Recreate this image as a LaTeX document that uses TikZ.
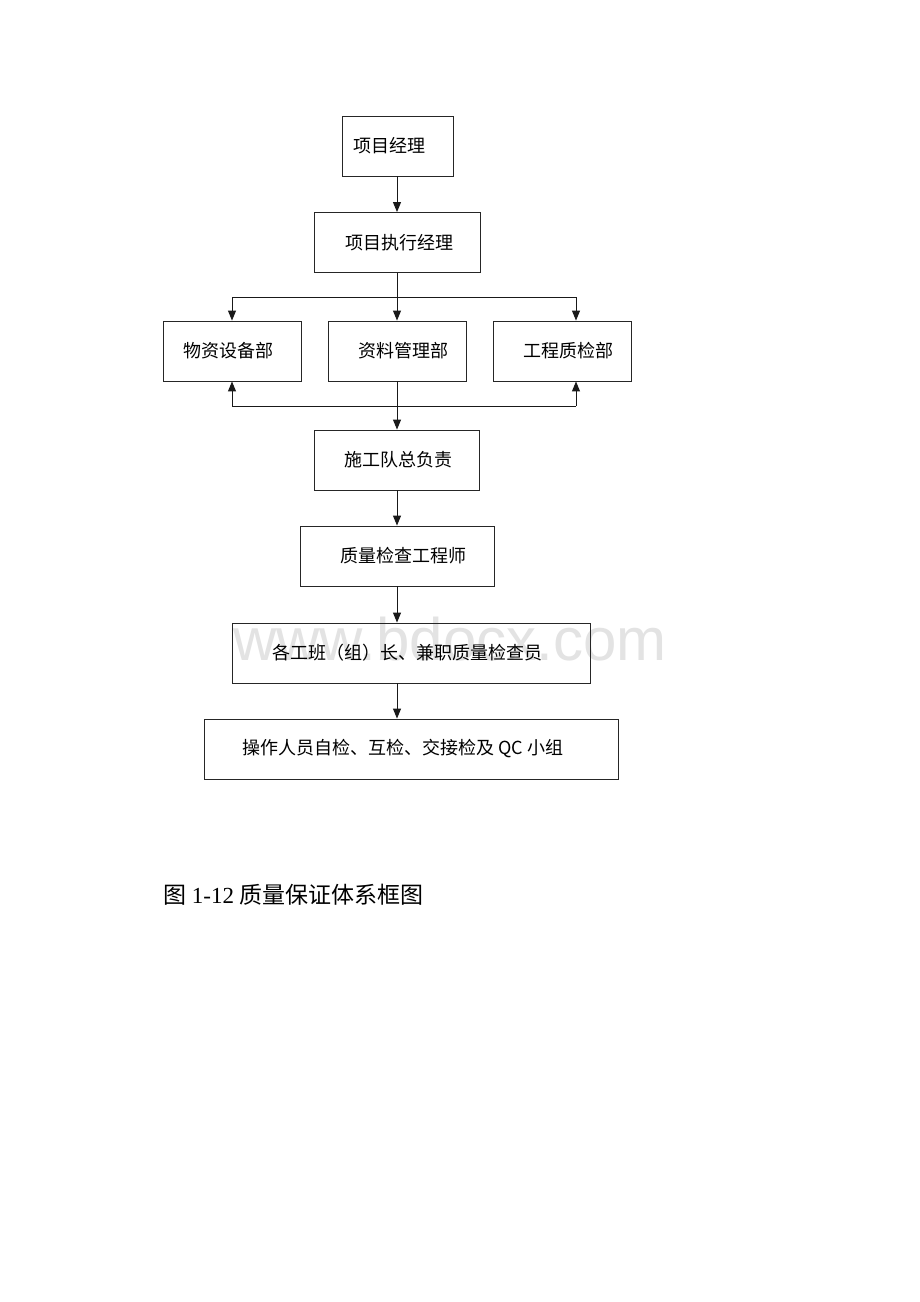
\documentclass[tikz,border=0pt]{standalone}
\usepackage{fontspec}
\setmainfont{Liberation Serif}
\newfontfamily\cjk{Noto Sans CJK SC}
\newfontfamily\wmfont{Liberation Sans}
\usetikzlibrary{arrows.meta}
\begin{document}
\begin{tikzpicture}[x=1pt,y=-1pt,
  box/.style={draw=black!85, line width=0.9pt, inner sep=0pt, minimum height=60pt,
    font=\cjk\fontsize{18}{20}\selectfont},
  link/.style={draw=black!90, line width=1pt},
  arr/.style={link, -{Triangle[length=10pt,width=8pt]}}]
\useasboundingbox (0,0) rectangle (920,1302);
\fill[white] (0,0) rectangle (920,1302);
% watermark
\node[anchor=base west, text=black!11, inner sep=0pt, font=\wmfont\fontsize{60}{62}\selectfont] (wm) at (233,660) {www.bdocx.com};
% boxes
\node[box, minimum width=111pt] (pm)  at (397.5,146)   {项目经理\hspace*{16pt}};
\node[box, minimum width=166pt] (epm) at (397,242.5)   {\hspace*{4pt}项目执行经理};
\node[box, minimum width=138pt] (wz)  at (232,351)     {物资设备部\hspace*{8pt}};
\node[box, minimum width=138pt] (zl)  at (397,351)     {\hspace*{12pt}资料管理部};
\node[box, minimum width=138pt] (gc)  at (562,351)     {\hspace*{12pt}工程质检部};
\node[box, minimum width=165pt] (sg)  at (396.5,460)   {\hspace*{3pt}施工队总负责};
\node[box, minimum width=194pt] (zj)  at (397,556)     {\hspace*{12pt}质量检查工程师};
\node[box, minimum width=358pt] (gb)  at (411,653)     {各工班（组）长、兼职质量检查员\hspace*{7pt}};
\node[box, minimum width=414pt] (cz)  at (411,749)     {操作人员自检、互检、交接检及 QC 小组\hspace*{16pt}};
% bus coordinates
\coordinate (tl) at (232,297);
\coordinate (tr) at (576,297);
\coordinate (bl) at (232,406);
\coordinate (br) at (576,406);
\coordinate (col) at (397,0);
% connectors
\draw[arr] (pm.south -| col) -- (epm.north -| col);
\draw[arr] (epm.south -| col) -- (zl.north -| col);
\draw[link] (tl) -- (tr);
\draw[arr] (tl) -- (tl |- wz.north);
\draw[arr] (tr) -- (tr |- gc.north);
\draw[link] (bl) -- (br);
\draw[arr] (bl) -- (bl |- wz.south);
\draw[arr] (br) -- (br |- gc.south);
\draw[arr] (zl.south -| col) -- (sg.north -| col);
\draw[arr] (sg.south -| col) -- (zj.north -| col);
\draw[arr] (zj.south -| col) -- (gb.north -| col);
\draw[arr] (gb.south -| col) -- (cz.north -| col);
% caption
\node[anchor=base west, inner sep=0pt, font=\fontsize{23}{26}\selectfont] (cap) at (163,903) {{\cjk 图} 1-12 {\cjk 质量保证体系框图}};
\end{tikzpicture}
\end{document}
